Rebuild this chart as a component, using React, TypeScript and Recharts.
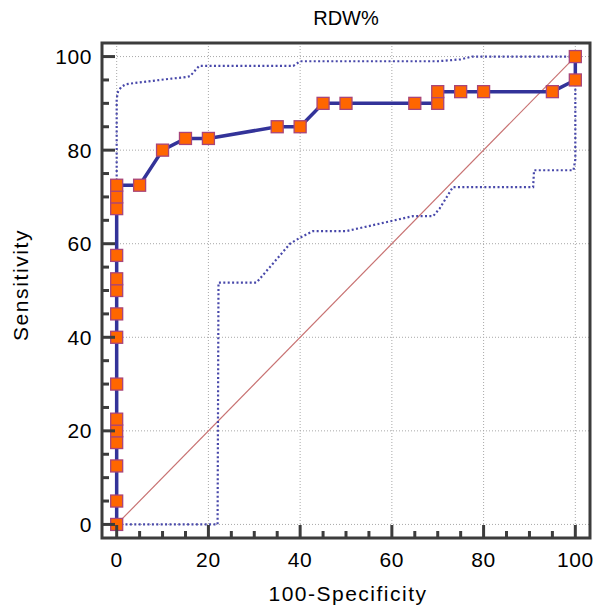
import React from 'react';
import { LineChart, Line, XAxis, YAxis, CartesianGrid, ReferenceArea } from 'recharts';

// ROC points (100-Specificity, Sensitivity)
const rocX = [0, 0, 0, 0, 0, 0, 0, 0, 0, 0, 0, 0, 0, 0, 0, 5, 10, 15, 20, 35, 40, 45, 50, 65, 70, 70, 75, 80, 95, 100, 100];
const rocY = [0, 5, 12.5, 17.5, 20, 22.5, 30, 40, 45, 50, 52.5, 57.5, 67.5, 70, 72.5, 72.5, 80, 82.5, 82.5, 85, 85, 90, 90, 90, 90, 92.5, 92.5, 92.5, 92.5, 95, 100];

// 95% confidence bounds
const upperX = [0, 0, 0.3, 1, 2, 6, 12, 15, 16, 18, 38.5, 40, 70, 75, 77.5, 100];
const upperY = [72.5, 91, 92.5, 93.5, 94.1, 94.6, 95.3, 95.6, 95.8, 98, 98, 99, 99, 99.4, 100, 100];
const lowerX = [0, 22, 22.2, 30.5, 33.4, 35.6, 37.8, 40, 42.8, 50.1, 57.4, 64.6, 69, 70.4, 73.3, 90.8, 91, 99.6, 100, 100];
const lowerY = [0, 0, 51.7, 51.7, 55, 57.5, 60, 61.3, 62.7, 62.7, 64.3, 65.9, 65.9, 67.5, 72.1, 72.1, 75.7, 75.7, 78, 95];

const diagX = [0, 100];
const diagY = [0, 100];

const ticks = [0, 5, 10, 15, 20, 25, 30, 35, 40, 45, 50, 55, 60, 65, 70, 75, 80, 85, 90, 95, 100];
const gridValues = [0, 20, 40, 60, 80, 100];

const zip = (xs: number[], ys: number[]) => xs.map((x, i) => ({ x, y: ys[i] }));

const rocData = zip(rocX, rocY);
const upperData = zip(upperX, upperY);
const lowerData = zip(lowerX, lowerY);
const diagData = zip(diagX, diagY);

const FONT = '"Liberation Sans", Arial, sans-serif';
const AXIS = '#3c3c3c';

const YTick = (props: any) => {
  const { x, y, payload } = props;
  const major = payload.value % 20 === 0;
  return (
    <g>
      <line x1={x} x2={x + (major ? 13 : 7)} y1={y} y2={y} stroke={AXIS} strokeWidth={3} />
      {major && (
        <text x={x - 10} y={y} textAnchor="end" dominantBaseline="central" fontSize={21} letterSpacing={0.6} fontFamily={FONT} fill="#000">
          {payload.value}
        </text>
      )}
    </g>
  );
};

const XTick = (props: any) => {
  const { x, y, payload } = props;
  const major = payload.value % 20 === 0;
  return (
    <g>
      <line x1={x} x2={x} y1={y} y2={y - (major ? 13 : 7)} stroke={AXIS} strokeWidth={3} />
      {major && (
        <text x={x} y={y + 21} textAnchor="middle" dominantBaseline="central" fontSize={21} letterSpacing={0.6} fontFamily={FONT} fill="#000">
          {payload.value}
        </text>
      )}
    </g>
  );
};

const SquareDot = (props: any) => {
  const { cx, cy, index } = props;
  return <rect key={index} x={cx - 6} y={cy - 6} width={12} height={12} fill="#ff6600" stroke="#a8457a" strokeWidth={1.3} />;
};

export default function App() {
  return (
    <div style={{ position: 'absolute', left: 0, top: 0 }}>
      <LineChart width={595} height={607} margin={{ top: 43, right: 5, bottom: 0, left: 0 }}>
        <text x={346} y={18} textAnchor="middle" dominantBaseline="central" fontSize={20} fontFamily={FONT} fill="#000">
          RDW%
        </text>
        <text x={348} y={593} textAnchor="middle" dominantBaseline="central" fontSize={21} letterSpacing={1.5} fontFamily={FONT} fill="#000">
          100-Specificity
        </text>
        <text x={20} y={285} transform="rotate(-90 20 285)" textAnchor="middle" dominantBaseline="central" fontSize={21} letterSpacing={1.6} fontFamily={FONT} fill="#000">
          Sensitivity
        </text>
        <CartesianGrid
          verticalValues={gridValues}
          horizontalValues={gridValues}
          stroke="#a8a8a8"
          strokeDasharray="1 2"
        />
        <XAxis
          type="number"
          dataKey="x"
          domain={[-3.2, 103.2]}
          allowDataOverflow
          ticks={ticks}
          interval={0}
          tickSize={0}
          tickMargin={0}
          tickLine={false}
          axisLine={false}
          height={69}
          tick={<XTick />}
        />
        <YAxis
          type="number"
          dataKey="y"
          domain={[-2.9, 102.9]}
          allowDataOverflow
          ticks={ticks}
          interval={0}
          tickSize={0}
          tickMargin={0}
          tickLine={false}
          axisLine={false}
          width={102}
          tick={<YTick />}
        />
        <Line data={diagData} dataKey="y" type="linear" stroke="#c87272" strokeWidth={1.2} dot={false} isAnimationActive={false} />
        <Line data={upperData} dataKey="y" type="linear" stroke="#4848aa" strokeWidth={2.2} strokeDasharray="2 2.4" dot={false} isAnimationActive={false} />
        <Line data={lowerData} dataKey="y" type="linear" stroke="#4848aa" strokeWidth={2.2} strokeDasharray="2 2.4" dot={false} isAnimationActive={false} />
        <Line data={rocData} dataKey="y" type="linear" stroke="#333399" strokeWidth={3.5} dot={<SquareDot />} isAnimationActive={false} />
        <ReferenceArea x1={-3.2} x2={103.2} y1={-2.9} y2={102.9} fill="none" stroke={AXIS} strokeWidth={3} />
      </LineChart>
    </div>
  );
}
